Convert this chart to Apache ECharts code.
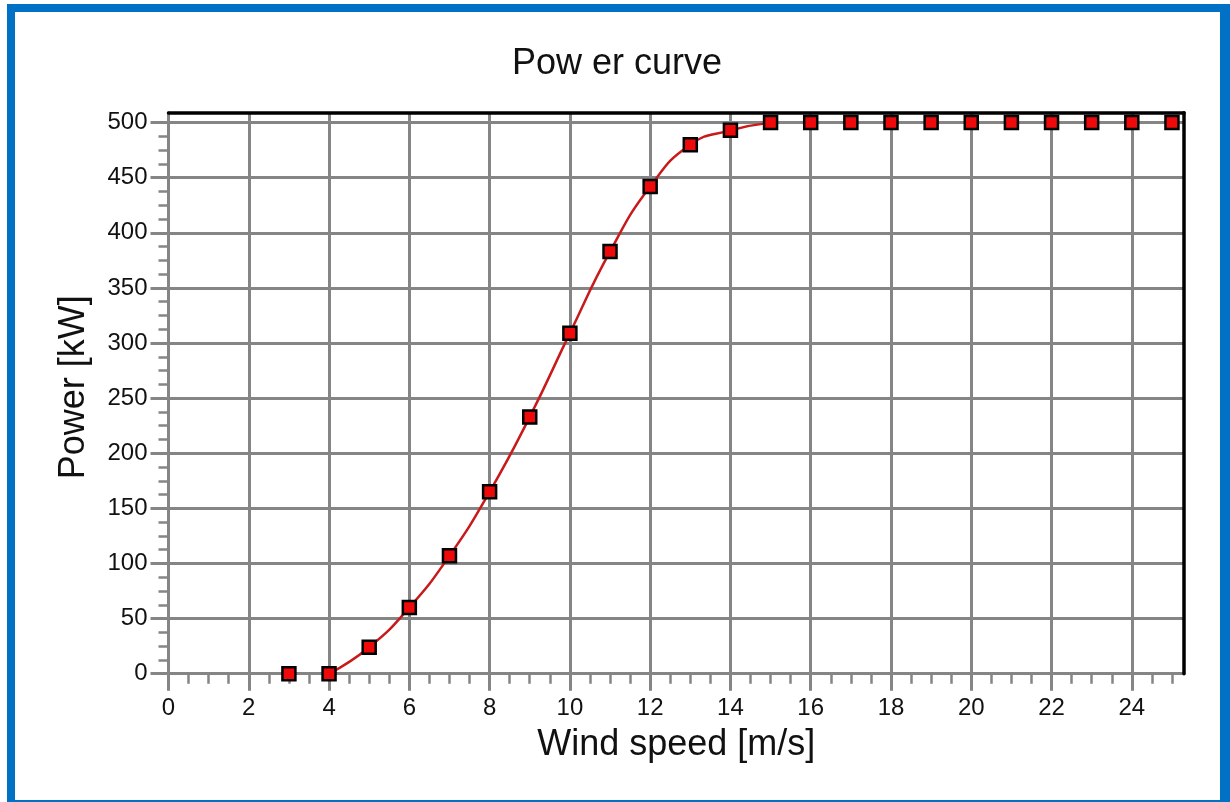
<!DOCTYPE html>
<html>
<head>
<meta charset="utf-8">
<style>
  html, body { margin: 0; padding: 0; background: #ffffff; }
  #chart { width: 1230px; height: 802px; }
</style>
<script src="https://cdn.jsdelivr.net/npm/echarts@6/dist/echarts.min.js"></script>
</head>
<body>
<div id="chart"></div>
<script>
// ---- data ----
const titleText = 'Pow er curve';
const xName = 'Wind speed [m/s]';
const yName = 'Power [kW]';
const windSpeed = [3, 4, 5, 6, 7, 8, 9, 10, 11, 12, 13, 14, 15, 16, 17, 18, 19, 20, 21, 22, 23, 24, 25];
const powerKW   = [0, 0, 24, 60, 107, 165, 233, 309, 383, 442, 480, 493, 500, 500, 500, 500, 500, 500, 500, 500, 500, 500, 500];
const curveStart = 4;   // drawn red curve runs from this wind speed ...
const curveEnd = 15;    // ... to this one
const xTicks = [0, 2, 4, 6, 8, 10, 12, 14, 16, 18, 20, 22, 24];
const xMinorTicks = [0.5, 1, 1.5, 2.5, 3, 3.5, 4.5, 5, 5.5, 6.5, 7, 7.5, 8.5, 9, 9.5, 10.5, 11, 11.5, 12.5, 13, 13.5, 14.5, 15, 15.5, 16.5, 17, 17.5, 18.5, 19, 19.5, 20.5, 21, 21.5, 22.5, 23, 23.5, 24.5, 25];
const yTicks = [0, 50, 100, 150, 200, 250, 300, 350, 400, 450, 500];
const yMinorTicks = [12.5, 25, 37.5, 62.5, 75, 87.5, 112.5, 125, 137.5, 162.5, 175, 187.5, 212.5, 225, 237.5, 262.5, 275, 287.5, 312.5, 325, 337.5, 362.5, 375, 387.5, 412.5, 425, 437.5, 462.5, 475, 487.5];
const xMax = 25.3;
const yMax = 509;

// ---- derived ----
const markerData = windSpeed.map((w, i) => [w, powerKW[i]]);
const curveData = markerData.filter(d => d[0] >= curveStart && d[0] <= curveEnd);

const FONT = 'Arial, "Liberation Sans", sans-serif';
const GRID_GREY = '#858585';
const BLUE = '#0071c5';

const chart = echarts.init(document.getElementById('chart'), null, { renderer: 'canvas' });

const option = {
  backgroundColor: '#ffffff',
  animation: false,
  title: {
    text: titleText,
    left: 507,
    top: 41,
    padding: 5,
    textStyle: { fontFamily: FONT, fontSize: 36, fontWeight: 'normal', color: '#111111' }
  },
  graphic: [
    { type: 'rect', shape: { x: 7, y: 4, width: 8, height: 798 }, style: { fill: BLUE }, silent: true },
    { type: 'rect', shape: { x: 7, y: 4, width: 1223, height: 8 }, style: { fill: BLUE }, silent: true },
    { type: 'rect', shape: { x: 1220, y: 4, width: 10, height: 798 }, style: { fill: BLUE }, silent: true },
    { type: 'rect', shape: { x: 7, y: 800, width: 1223, height: 2 }, style: { fill: BLUE }, silent: true }
  ],
  grid: { left: 168.5, right: 46, top: 112.7, bottom: 128.3, containLabel: false },
  xAxis: [
    {
      type: 'value', min: 0, max: xMax, interval: 2, position: 'bottom',
      axisLine: { show: true, onZero: false, lineStyle: { color: GRID_GREY, width: 3 } },
      axisTick: { show: true, customValues: xTicks, length: 17, lineStyle: { color: GRID_GREY, width: 3 } },
      axisLabel: { show: true, customValues: xTicks, margin: 23, fontFamily: FONT, fontSize: 24, color: '#111111' },
      splitLine: { show: true, lineStyle: { color: GRID_GREY, width: 3 } },
      name: xName, nameLocation: 'middle', nameGap: 53,
      nameTextStyle: { fontFamily: FONT, fontSize: 36, color: '#111111' }
    },
    {
      type: 'value', min: 0, max: xMax, position: 'bottom',
      axisLine: { show: false, onZero: false },
      axisTick: { show: true, customValues: xMinorTicks, length: 10, lineStyle: { color: GRID_GREY, width: 2.5 } },
      axisLabel: { show: false },
      splitLine: { show: false }
    },
    {
      type: 'value', min: 0, max: xMax, position: 'top', z: 5,
      axisLine: { show: true, onZero: false, lineStyle: { color: '#000000', width: 3.5 } },
      axisTick: { show: false }, axisLabel: { show: false }, splitLine: { show: false }
    }
  ],
  yAxis: [
    {
      type: 'value', min: 0, max: yMax, interval: 50, position: 'left',
      axisLine: { show: true, onZero: false, lineStyle: { color: GRID_GREY, width: 3 } },
      axisTick: { show: true, customValues: yTicks, length: 18, lineStyle: { color: GRID_GREY, width: 3 } },
      axisLabel: { show: true, customValues: yTicks, margin: 21, fontFamily: FONT, fontSize: 24, color: '#111111' },
      splitLine: { show: true, lineStyle: { color: GRID_GREY, width: 3 } },
      name: yName, nameLocation: 'middle', nameGap: 76,
      nameTextStyle: { fontFamily: FONT, fontSize: 36, color: '#111111', padding: [0, 0, 0, 12] }
    },
    {
      type: 'value', min: 0, max: yMax, position: 'left',
      axisLine: { show: false, onZero: false },
      axisTick: { show: true, customValues: yMinorTicks, length: 10, lineStyle: { color: GRID_GREY, width: 2.5 } },
      axisLabel: { show: false },
      splitLine: { show: false }
    },
    {
      type: 'value', min: 0, max: yMax, position: 'right', z: 5,
      axisLine: { show: true, onZero: false, lineStyle: { color: '#000000', width: 3.5 } },
      axisTick: { show: false }, axisLabel: { show: false }, splitLine: { show: false }
    }
  ],
  series: [
    {
      type: 'line', xAxisIndex: 0, yAxisIndex: 0,
      data: curveData, smooth: 0.5,
      showSymbol: false, symbol: 'none',
      lineStyle: { color: '#c81a1a', width: 2.5 },
      z: 3
    },
    {
      type: 'scatter', xAxisIndex: 0, yAxisIndex: 0,
      data: markerData, symbol: 'rect', symbolSize: 13,
      itemStyle: { color: '#ee0a0a', borderColor: '#000000', borderWidth: 2.5, opacity: 1 },
      z: 4
    }
  ]
};
chart.setOption(option);
</script>
</body>
</html>
